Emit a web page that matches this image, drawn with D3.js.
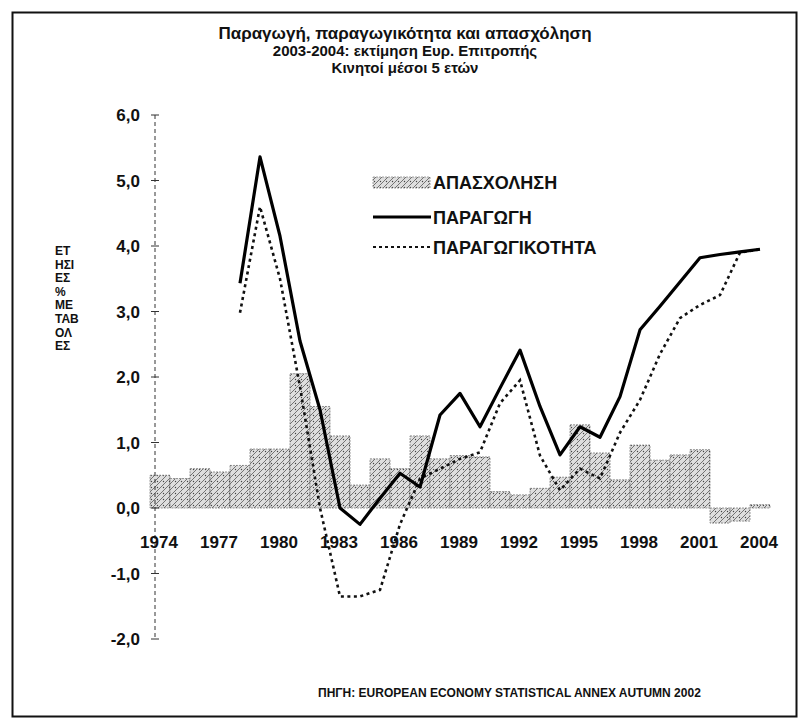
<!DOCTYPE html>
<html>
<head>
<meta charset="utf-8">
<script src="https://cdn.jsdelivr.net/npm/d3@7"></script>
<style>
  body { margin: 0; background: #fff; }
  svg { display: block; }
  text { font-family: "Liberation Sans Narrow", "Liberation Sans", Arial, sans-serif; font-weight: bold; fill: #111; }
</style>
</head>
<body>
<svg id="chart" width="805" height="721"></svg>
<script>
// Ετήσιες % μεταβολές, κινητοί μέσοι 5 ετών
const years = d3.range(1974, 2005);
const tickYears = [1974, 1977, 1980, 1983, 1986, 1989, 1992, 1995, 1998, 2001, 2004];
const yTicks = [6, 5, 4, 3, 2, 1, 0, -1, -2];

// ΑΠΑΣΧΟΛΗΣΗ 1974-2004
const employment = [0.5, 0.45, 0.6, 0.55, 0.65, 0.9, 0.9, 2.05, 1.55, 1.1,
    0.35, 0.75, 0.6, 1.1, 0.75, 0.8, 0.78, 0.25, 0.2, 0.3,
    0.47, 1.27, 0.84, 0.43, 0.96, 0.73, 0.81, 0.89, -0.23, -0.2, 0.05];

// ΠΑΡΑΓΩΓΗ 1978-2004
const productionYears = d3.range(1978, 2005);
const production = [3.43, 5.36, 4.15, 2.55, 1.5, 0.0, -0.25, 0.15, 0.53, 0.32,
    1.42, 1.75, 1.24, 1.83, 2.41, 1.55, 0.81, 1.24, 1.08, 1.7,
    2.72, 3.08, 3.45, 3.82, 3.87, 3.91, 3.95];

// ΠΑΡΑΓΩΓΙΚΟΤΗΤΑ 1978-2004
const productivity = [2.98, 4.6, 3.5, 1.85, 0.0, -1.35, -1.35, -1.25, -0.25, 0.45,
    0.6, 0.75, 0.85, 1.6, 1.95, 0.8, 0.27, 0.6, 0.45, 1.15,
    1.65, 2.35, 2.9, 3.1, 3.25, 3.9, 3.95];

const titleLines = ["Παραγωγή, παραγωγικότητα και απασχόληση",
    "2003-2004: εκτίμηση Ευρ. Επιτροπής",
    "Κινητοί μέσοι 5 ετών"];
const yTitleLines = ["ΕΤ", "ΗΣΙ", "ΕΣ", "%", "ΜΕ", "ΤΑΒ", "ΟΛ", "ΕΣ"];
const legendLabels = ["ΑΠΑΣΧΟΛΗΣΗ", "ΠΑΡΑΓΩΓΗ", "ΠΑΡΑΓΩΓΙΚΟΤΗΤΑ"];
const sourceText = "ΠΗΓΗ: EUROPEAN ECONOMY STATISTICAL ANNEX AUTUMN 2002";

const svg = d3.select("#chart");

const x = d3.scaleBand().domain(years).range([150, 770]).padding(0);
const y = d3.scaleLinear().domain([-2, 6]).range([639, 115]);
const fmt = v => d3.format(".1f")(v).replace(".", ",").replace("−", "-");

// πλαίσιο
svg.append("rect")
    .attr("x", 12.5).attr("y", 12.5)
    .attr("width", 784).attr("height", 704)
    .attr("fill", "none").attr("stroke", "#111").attr("stroke-width", 2);

// μοτίβο για τις στήλες
const defs = svg.append("defs");
const pat = defs.append("pattern")
    .attr("id", "hatch")
    .attr("patternUnits", "userSpaceOnUse")
    .attr("width", 6).attr("height", 6);
pat.append("rect").attr("width", 6).attr("height", 6).attr("fill", "#dedede");
pat.append("path")
    .attr("d", "M0,6 L6,0 M-1,1 L1,-1 M5,7 L7,5")
    .attr("stroke", "#666").attr("stroke-width", 0.9);
pat.append("circle").attr("cx", 1.5).attr("cy", 1.5).attr("r", 0.7).attr("fill", "#444");

// τίτλος
svg.append("g").selectAll("text")
    .data(titleLines)
    .enter().append("text")
    .attr("x", 405)
    .attr("y", (d, i) => 39 + i * 17)
    .attr("text-anchor", "middle")
    .style("font-family", "'Liberation Sans', Arial, sans-serif")
    .style("font-size", (d, i) => i === 0 ? "17px" : "15px")
    .text(d => d);

// στήλες απασχόλησης
svg.append("g").selectAll("rect")
    .data(employment)
    .enter().append("rect")
    .attr("x", (d, i) => x(years[i]))
    .attr("width", x.bandwidth())
    .attr("y", d => y(Math.max(0, d)))
    .attr("height", d => Math.abs(y(d) - y(0)))
    .attr("fill", "url(#hatch)")
    .attr("stroke", "#555")
    .attr("stroke-width", 0.6)
    .attr("stroke-dasharray", "2,1");

// άξονας y
const yAxis = svg.append("g");
yAxis.append("line")
    .attr("x1", 155).attr("x2", 155)
    .attr("y1", y(6)).attr("y2", y(-2))
    .attr("stroke", "#333").attr("stroke-width", 1)
    .attr("stroke-dasharray", "4,3");
yAxis.selectAll(".tick")
    .data(yTicks)
    .enter().append("line")
    .attr("x1", 151).attr("x2", 159)
    .attr("y1", d => y(d)).attr("y2", d => y(d))
    .attr("stroke", "#333").attr("stroke-width", 1);
yAxis.selectAll("text")
    .data(yTicks)
    .enter().append("text")
    .attr("x", 140)
    .attr("y", d => y(d) + 6)
    .attr("text-anchor", "end")
    .style("font-size", "17px")
    .text(fmt);

// τίτλος άξονα y
svg.append("g").selectAll("text")
    .data(yTitleLines)
    .enter().append("text")
    .attr("x", 55)
    .attr("y", (d, i) => 255 + i * 13.6)
    .style("font-size", "12px")
    .text(d => d);

// ετικέτες άξονα x
svg.append("g").selectAll("text")
    .data(tickYears)
    .enter().append("text")
    .attr("x", d => x(d) + x.bandwidth() / 2 - 1)
    .attr("y", 548)
    .attr("text-anchor", "middle")
    .style("font-size", "17px")
    .text(d => d);

// γραμμές
const line = d3.line()
    .x((d, i) => x(productionYears[i]) + x.bandwidth() / 2)
    .y(d => y(d));

svg.append("path")
    .datum(productivity)
    .attr("d", line)
    .attr("fill", "none")
    .attr("stroke", "#111")
    .attr("stroke-width", 2.6)
    .attr("stroke-dasharray", "3,3.5");

svg.append("path")
    .datum(production)
    .attr("d", line)
    .attr("fill", "none")
    .attr("stroke", "#000")
    .attr("stroke-width", 3.2)
    .attr("stroke-linejoin", "round");

// υπόμνημα
const legend = svg.append("g").attr("transform", "translate(373,0)");
legend.append("rect")
    .attr("x", 0).attr("y", 177).attr("width", 57).attr("height", 11)
    .attr("fill", "url(#hatch)").attr("stroke", "#666").attr("stroke-width", 0.6)
    .attr("stroke-dasharray", "2,1");
legend.append("line")
    .attr("x1", 0).attr("x2", 58).attr("y1", 217).attr("y2", 217)
    .attr("stroke", "#000").attr("stroke-width", 3);
legend.append("line")
    .attr("x1", 0).attr("x2", 58).attr("y1", 247).attr("y2", 247)
    .attr("stroke", "#111").attr("stroke-width", 2)
    .attr("stroke-dasharray", "3,3");
legend.selectAll("text")
    .data(legendLabels)
    .enter().append("text")
    .attr("x", 60)
    .attr("y", (d, i) => [189, 224, 254][i])
    .style("font-size", "18px")
    .text(d => d);

// πηγή
svg.append("text")
    .attr("x", 318)
    .attr("y", 697)
    .style("font-size", "12px")
    .text(sourceText);
</script>
</body>
</html>
